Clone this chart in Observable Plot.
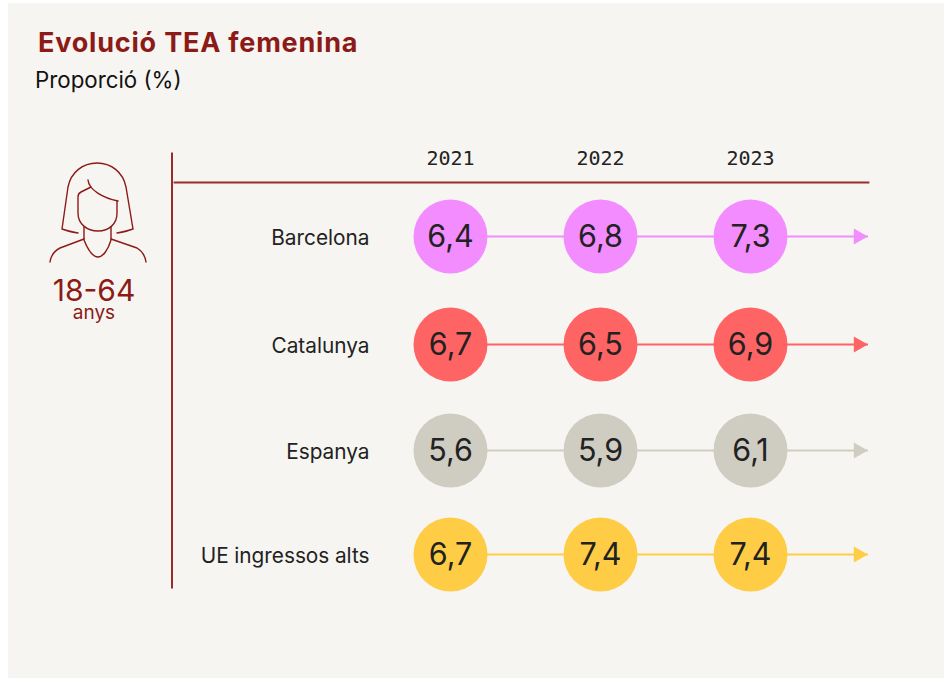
<!DOCTYPE html>
<html lang="ca"><head><meta charset="utf-8">
<script src="https://cdn.jsdelivr.net/npm/d3@7"></script>
<script src="https://cdn.jsdelivr.net/npm/@observablehq/plot@0.6"></script>
<style>
html,body{margin:0;padding:0;background:#fff;overflow:hidden}
#panel{position:absolute;left:8px;top:3px;width:936px;height:675px;background:#f7f5f1}
#chart{position:absolute;left:0;top:0}
#title{position:absolute;left:38px;top:27px;font:700 27px/32px Inter,sans-serif;letter-spacing:.8px;color:#8c1a17;white-space:nowrap}
#subtitle{position:absolute;left:35px;top:66px;font:400 22.3px/28px Inter,sans-serif;color:#111;white-space:nowrap}
#age{position:absolute;left:44px;top:274px;width:100px;text-align:center;color:#8c1a17;font-family:Inter,sans-serif}
#age .a{font-size:30px;line-height:32px}
#age .b{font-size:19px;line-height:20px;margin-top:-3px}
</style></head><body>
<div id="panel"></div>
<div id="chart"></div>
<div id="title">Evolució TEA femenina</div>
<div id="subtitle">Proporció (%)</div>
<div id="age"><div class="a">18-64</div><div class="b">anys</div></div>
<script>
const years = ["2021","2022","2023"];
const regions = ["Barcelona","Catalunya","Espanya","UE ingressos alts"];
const barcelona = [6.4,6.8,7.3];
const catalunya = [6.7,6.5,6.9];
const espanya = [5.6,5.9,6.1];
const ueIngressosAlts = [6.7,7.4,7.4];
const colors = ["#f28cff","#ff6464","#cfcdc2","#ffcd45"];
const series = [barcelona,catalunya,espanya,ueIngressosAlts];
const rows = regions.flatMap((region,i)=>years.map((year,j)=>({region,year,value:series[i][j]})));
const fmt = v => v.toFixed(1).replace(".",",");
const ink = "#9b2c2a";

const icon = () => {
  const g = d3.create("svg:g").attr("fill","none").attr("stroke","#8c1a17").attr("stroke-width",1.4).attr("stroke-linecap","round").attr("stroke-linejoin","round");
  [
    "M78 233C72 232 67 231 62 229L68 187C71 172 83 163 97 163C111 163 123 172 126 187L133 229C128 231 123 232 117 233",
    "M91 187L81 192C79 193 78 195 78 197V213C78 224 87 231 98 231C109 231 117 224 117 213V201",
    "M88 180C89 190 103 198 118 201",
    "M84 227V240C88 250 93 257 98 257C103 257 108 250 111 240V227",
    "M84 239L60 248C54 251 51 255 50 262",
    "M111 239L137 248C142 251 145 255 146 262"
  ].forEach(d=>g.append("path").attr("d",d));
  return g.node();
};

const plot = Plot.plot({
  width:944,height:678,
  marginTop:182,marginLeft:172,marginRight:76,marginBottom:91,
  style:{background:"transparent",fontFamily:"Inter, sans-serif",color:"#222",overflow:"visible"},
  x:{type:"point",domain:years,range:[449.5,751],padding:0},
  y:{type:"ordinal",domain:regions,range:[236,344,450,554]},
  color:{type:"ordinal",domain:regions,range:colors},
  marks:[
    Plot.frame({anchor:"left",stroke:ink,strokeWidth:2,insetTop:-29,dx:-0.5}),
    Plot.frame({anchor:"top",stroke:ink,strokeWidth:1.8,insetLeft:2}),
    Plot.axisX({anchor:"top",tickSize:0,tickPadding:18,label:null,fontSize:20,fontFamily:"DejaVu Sans Mono"}),
    Plot.axisY({anchor:"left",tickSize:0,tickPadding:194,label:null,fontSize:20.8,textAnchor:"end",dx:391,dy:1.5}),
    Plot.ruleY(regions,{y:d=>d,stroke:d=>d,strokeWidth:1.8,insetLeft:277}),
    Plot.dot(regions,{y:d=>d,frameAnchor:"right",dx:-10,symbol:"triangle2",rotate:90,r:7.7,fill:d=>d,stroke:"none"}),
    Plot.dot(rows,{x:"year",y:"region",r:37,fill:"region",stroke:"none"}),
    Plot.text(rows,{x:"year",y:"region",text:d=>fmt(d.value),fontSize:30.5,fill:"#222",dy:1}),
    icon
  ]
});
document.getElementById("chart").append(plot);
</script>
</body></html>
